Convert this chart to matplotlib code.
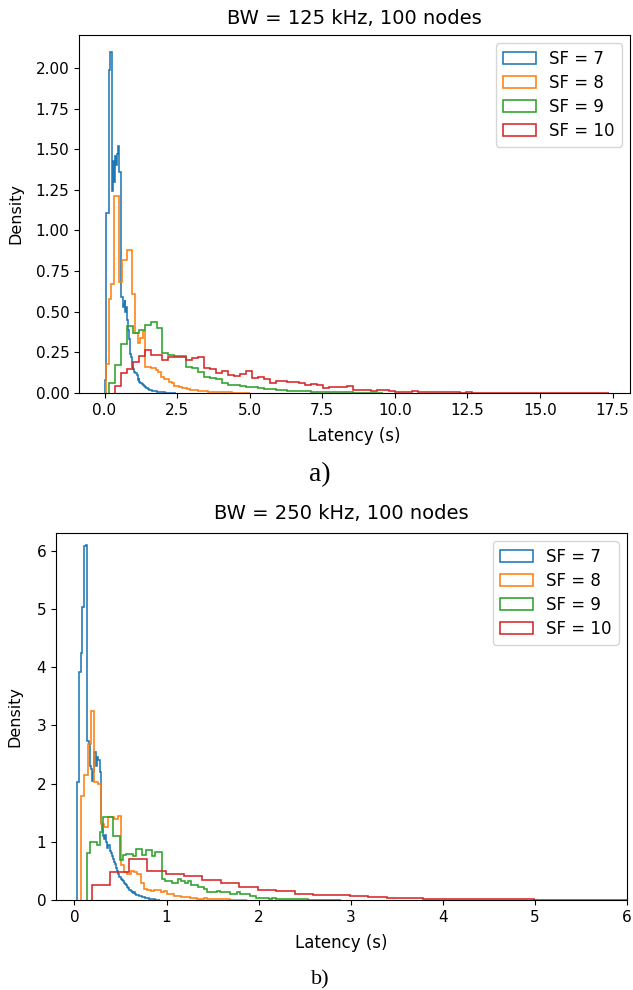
import numpy as np
import matplotlib
matplotlib.use("Agg")
import matplotlib.pyplot as plt

labels = ["SF = 7", "SF = 8", "SF = 9", "SF = 10"]
colors = ["#1f77b4", "#ff7f0e", "#2ca02c", "#d62728"]

# ---- Panel a) BW = 125 kHz : (bin start, bin width, densities)
top_sf7_start, top_sf7_width = 0.03, 0.03
top_sf7 = [0.08, 1.11, 1.11, 1.11, 1.99, 2.10, 2.10, 2.10, 1.24, 1.43, 1.30, 1.46, 1.40, 1.47,
           1.50, 1.52, 1.36, 1.36, 0.59, 0.59, 0.53, 0.55, 0.57, 0.50, 0.53, 0.45, 0.39, 0.33,
           0.24, 0.22, 0.18, 0.16, 0.15, 0.13, 0.12, 0.12, 0.11, 0.08, 0.09, 0.07, 0.06,
           0.06, 0.055, 0.05, 0.045, 0.04, 0.035, 0.03, 0.03, 0.025, 0.02, 0.02, 0.018, 0.016,
           0.015, 0.013, 0.012, 0.01, 0.01, 0.009, 0.008, 0.007, 0.006, 0.006, 0.005, 0.005,
           0.004, 0.004, 0.003, 0.003, 0.003, 0.002, 0.002, 0.002, 0.002, 0.001, 0.001, 0.001,
           0.001, 0.001, 0.001]
top_sf8_start, top_sf8_width = 0.057, 0.09
top_sf8 = [0.18, 0.58, 0.67, 1.21, 1.21, 0.68, 0.82, 0.82, 0.88, 0.88, 0.61, 0.37, 0.31, 0.34,
           0.38, 0.16, 0.16, 0.152, 0.152, 0.14, 0.131, 0.10, 0.084, 0.084, 0.07, 0.06, 0.043,
           0.043, 0.035, 0.029, 0.029, 0.025, 0.018, 0.018, 0.016, 0.014, 0.012, 0.011, 0.01,
           0.009, 0.008, 0.008, 0.007, 0.006, 0.005, 0.005, 0.004, 0.004, 0.003, 0.003, 0.003,
           0.002, 0.002, 0.002, 0.001]
top_sf9_start, top_sf9_width = 0.15, 0.205
top_sf9 = [0.06, 0.17, 0.30, 0.41, 0.37, 0.39, 0.42, 0.435, 0.40, 0.244, 0.235, 0.228, 0.225,
           0.162, 0.152, 0.13, 0.096, 0.09, 0.088, 0.06, 0.05, 0.047, 0.04, 0.038, 0.034, 0.032,
           0.025, 0.022, 0.02, 0.018, 0.015, 0.013, 0.012, 0.01, 0.009, 0.008, 0.007, 0.006,
           0.005, 0.004, 0.004, 0.003, 0.003, 0.002, 0.002, 0.001]
top_sf10_start, top_sf10_width = 0.355, 0.205
top_sf10 = [0.04, 0.125, 0.15, 0.19, 0.23, 0.265, 0.234, 0.234, 0.203, 0.22, 0.224, 0.224, 0.20,
            0.213, 0.224, 0.152, 0.148, 0.121, 0.137, 0.11, 0.105, 0.117, 0.135, 0.094, 0.10,
            0.086, 0.06, 0.076, 0.076, 0.068, 0.068, 0.06, 0.049, 0.053, 0.05, 0.031, 0.039,
            0.039, 0.035, 0.04, 0.017, 0.02, 0.02, 0.012, 0.018, 0.018, 0.01, 0.008, 0.008,
            0.008, 0.012, 0.006, 0.006, 0.005, 0.006, 0.004, 0.005, 0.004, 0.003, 0.004, 0.003,
            0.003, 0.002, 0.003, 0.002, 0.002, 0.002, 0.001, 0.002, 0.001, 0.001, 0.002, 0.001,
            0.001, 0.001, 0.001, 0.001, 0.0008, 0.001, 0.0008, 0.0005, 0.0008, 0.0005]

# ---- Panel b) BW = 250 kHz
bot_sf7_start, bot_sf7_width = 0.033, 0.012
bot_sf7 = [2.02, 3.91, 3.91, 4.24, 5.03, 5.03, 6.08, 6.08, 6.10, 2.74, 2.68, 2.31, 2.25, 2.05,
           2.20, 2.54, 2.54, 2.30, 2.45, 2.40, 2.20, 1.33, 1.20, 1.10, 1.05, 1.12, 1.00, 0.90,
           0.95, 0.85, 0.80, 0.76, 0.70, 0.65, 0.62, 0.55, 0.50, 0.45, 0.40, 0.36, 0.34, 0.33,
           0.30, 0.27, 0.25, 0.22, 0.20, 0.17, 0.16, 0.14, 0.12, 0.13, 0.10, 0.09, 0.08, 0.09,
           0.07, 0.07, 0.06, 0.05, 0.05, 0.04, 0.04, 0.03, 0.03, 0.025, 0.02, 0.015, 0.012,
           0.01, 0.008, 0.006, 0.005, 0.004, 0.003]
bot_sf8_start, bot_sf8_width = 0.072, 0.036
bot_sf8 = [1.79, 2.14, 2.68, 3.24, 2.02, 2.00, 1.30, 1.25, 1.42, 1.42, 1.40, 1.45, 0.60, 0.48,
           0.45, 0.50, 0.48, 0.45, 0.30, 0.19, 0.17, 0.16, 0.17, 0.18, 0.13, 0.15, 0.10, 0.10,
           0.07, 0.07, 0.06, 0.06, 0.05, 0.03, 0.03, 0.025, 0.02, 0.03, 0.02, 0.025, 0.015,
           0.015, 0.012, 0.01, 0.01, 0.008, 0.006, 0.005, 0.004, 0.003]
bot_sf9_start, bot_sf9_width = 0.138, 0.0353
bot_sf9 = [0.80, 0.99, 0.99, 0.95, 1.16, 1.43, 1.43, 1.42, 1.10, 1.10, 0.68, 0.78, 0.79, 0.79,
           0.75, 0.88, 0.88, 0.78, 0.86, 0.86, 0.76, 0.82, 0.82, 0.36, 0.33, 0.33, 0.30, 0.30,
           0.36, 0.33, 0.30, 0.32, 0.25, 0.25, 0.22, 0.22, 0.19, 0.13, 0.13, 0.13, 0.16, 0.13,
           0.13, 0.13, 0.10, 0.10, 0.13, 0.10, 0.10, 0.10, 0.07, 0.07, 0.04, 0.03, 0.03, 0.03,
           0.025, 0.03, 0.02, 0.025, 0.02, 0.02, 0.015, 0.015, 0.012, 0.015, 0.01, 0.01, 0.008,
           0.008, 0.006, 0.006, 0.005, 0.004, 0.004, 0.003, 0.003, 0.002]
bot_sf10_start, bot_sf10_width = 0.19, 0.2
bot_sf10 = [0.25, 0.48, 0.70, 0.50, 0.45, 0.41, 0.34, 0.30, 0.22, 0.18, 0.15, 0.11, 0.09, 0.09,
            0.075, 0.058, 0.03, 0.03, 0.023, 0.016, 0.014, 0.012, 0.011, 0.009, 0.008, 0.006,
            0.003, 0.002, 0.0015, 0.001, 0.001, 0.0008, 0.0005]

panels = [
    dict(title="BW = 125 kHz, 100 nodes",
         series=[(top_sf7_start, top_sf7_width, top_sf7), (top_sf8_start, top_sf8_width, top_sf8),
                 (top_sf9_start, top_sf9_width, top_sf9), (top_sf10_start, top_sf10_width, top_sf10)],
         xlim=(-0.88, 18.1), ylim=(0, 2.203),
         xticks=[0.0, 2.5, 5.0, 7.5, 10.0, 12.5, 15.0, 17.5],
         yticks=[0.0, 0.25, 0.5, 0.75, 1.0, 1.25, 1.5, 1.75, 2.0],
         xfmt="{:.1f}", yfmt="{:.2f}", ylabelpad=9, titlepad=8,
         rect=[79/633, 1-393/990, (630-79)/633, (393-35)/990]),
    dict(title="BW = 250 kHz, 100 nodes",
         series=[(bot_sf7_start, bot_sf7_width, bot_sf7), (bot_sf8_start, bot_sf8_width, bot_sf8),
                 (bot_sf9_start, bot_sf9_width, bot_sf9), (bot_sf10_start, bot_sf10_width, bot_sf10)],
         xlim=(-0.2, 6.0), ylim=(0, 6.306),
         xticks=[0, 1, 2, 3, 4, 5, 6], yticks=[0, 1, 2, 3, 4, 5, 6],
         xfmt="{:d}", yfmt="{:d}", ylabelpad=10, titlepad=10,
         rect=[56/633, 1-900/990, (627-56)/633, (900-533)/990]),
]

fig = plt.figure(figsize=(6.33, 9.9), dpi=100)
for p in panels:
    ax = fig.add_axes(p["rect"])
    for (start, width, dens), lab, col in zip(p["series"], labels, colors):
        dens = np.asarray(dens, dtype=float)
        edges = start + width * np.arange(len(dens) + 1)
        ax.hist(edges[:-1], bins=edges, weights=dens, histtype="step",
                color=col, label=lab, linewidth=1.15)
    ax.set_xlim(*p["xlim"])
    ax.set_ylim(*p["ylim"])
    ax.set_xticks(p["xticks"])
    ax.set_xticklabels([p["xfmt"].format(v) for v in p["xticks"]], fontsize=11)
    ax.set_yticks(p["yticks"])
    ax.set_yticklabels([p["yfmt"].format(v) for v in p["yticks"]], fontsize=11)
    ax.set_title(p["title"], fontsize=14, pad=p["titlepad"])
    ax.set_xlabel("Latency (s)", fontsize=12, labelpad=7)
    ax.set_ylabel("Density", fontsize=11.5, labelpad=p["ylabelpad"])
    ax.legend(loc="upper right", fontsize=12, labelspacing=0.36)

fig.text(320/633, 1-475/990, "a)", ha="center", va="center",
         fontsize=20, family="Liberation Serif")
fig.text(320/633, 1-980/990, "b)", ha="center", va="center",
         fontsize=16, family="Liberation Serif")

fig.savefig("out.png", dpi=100)
